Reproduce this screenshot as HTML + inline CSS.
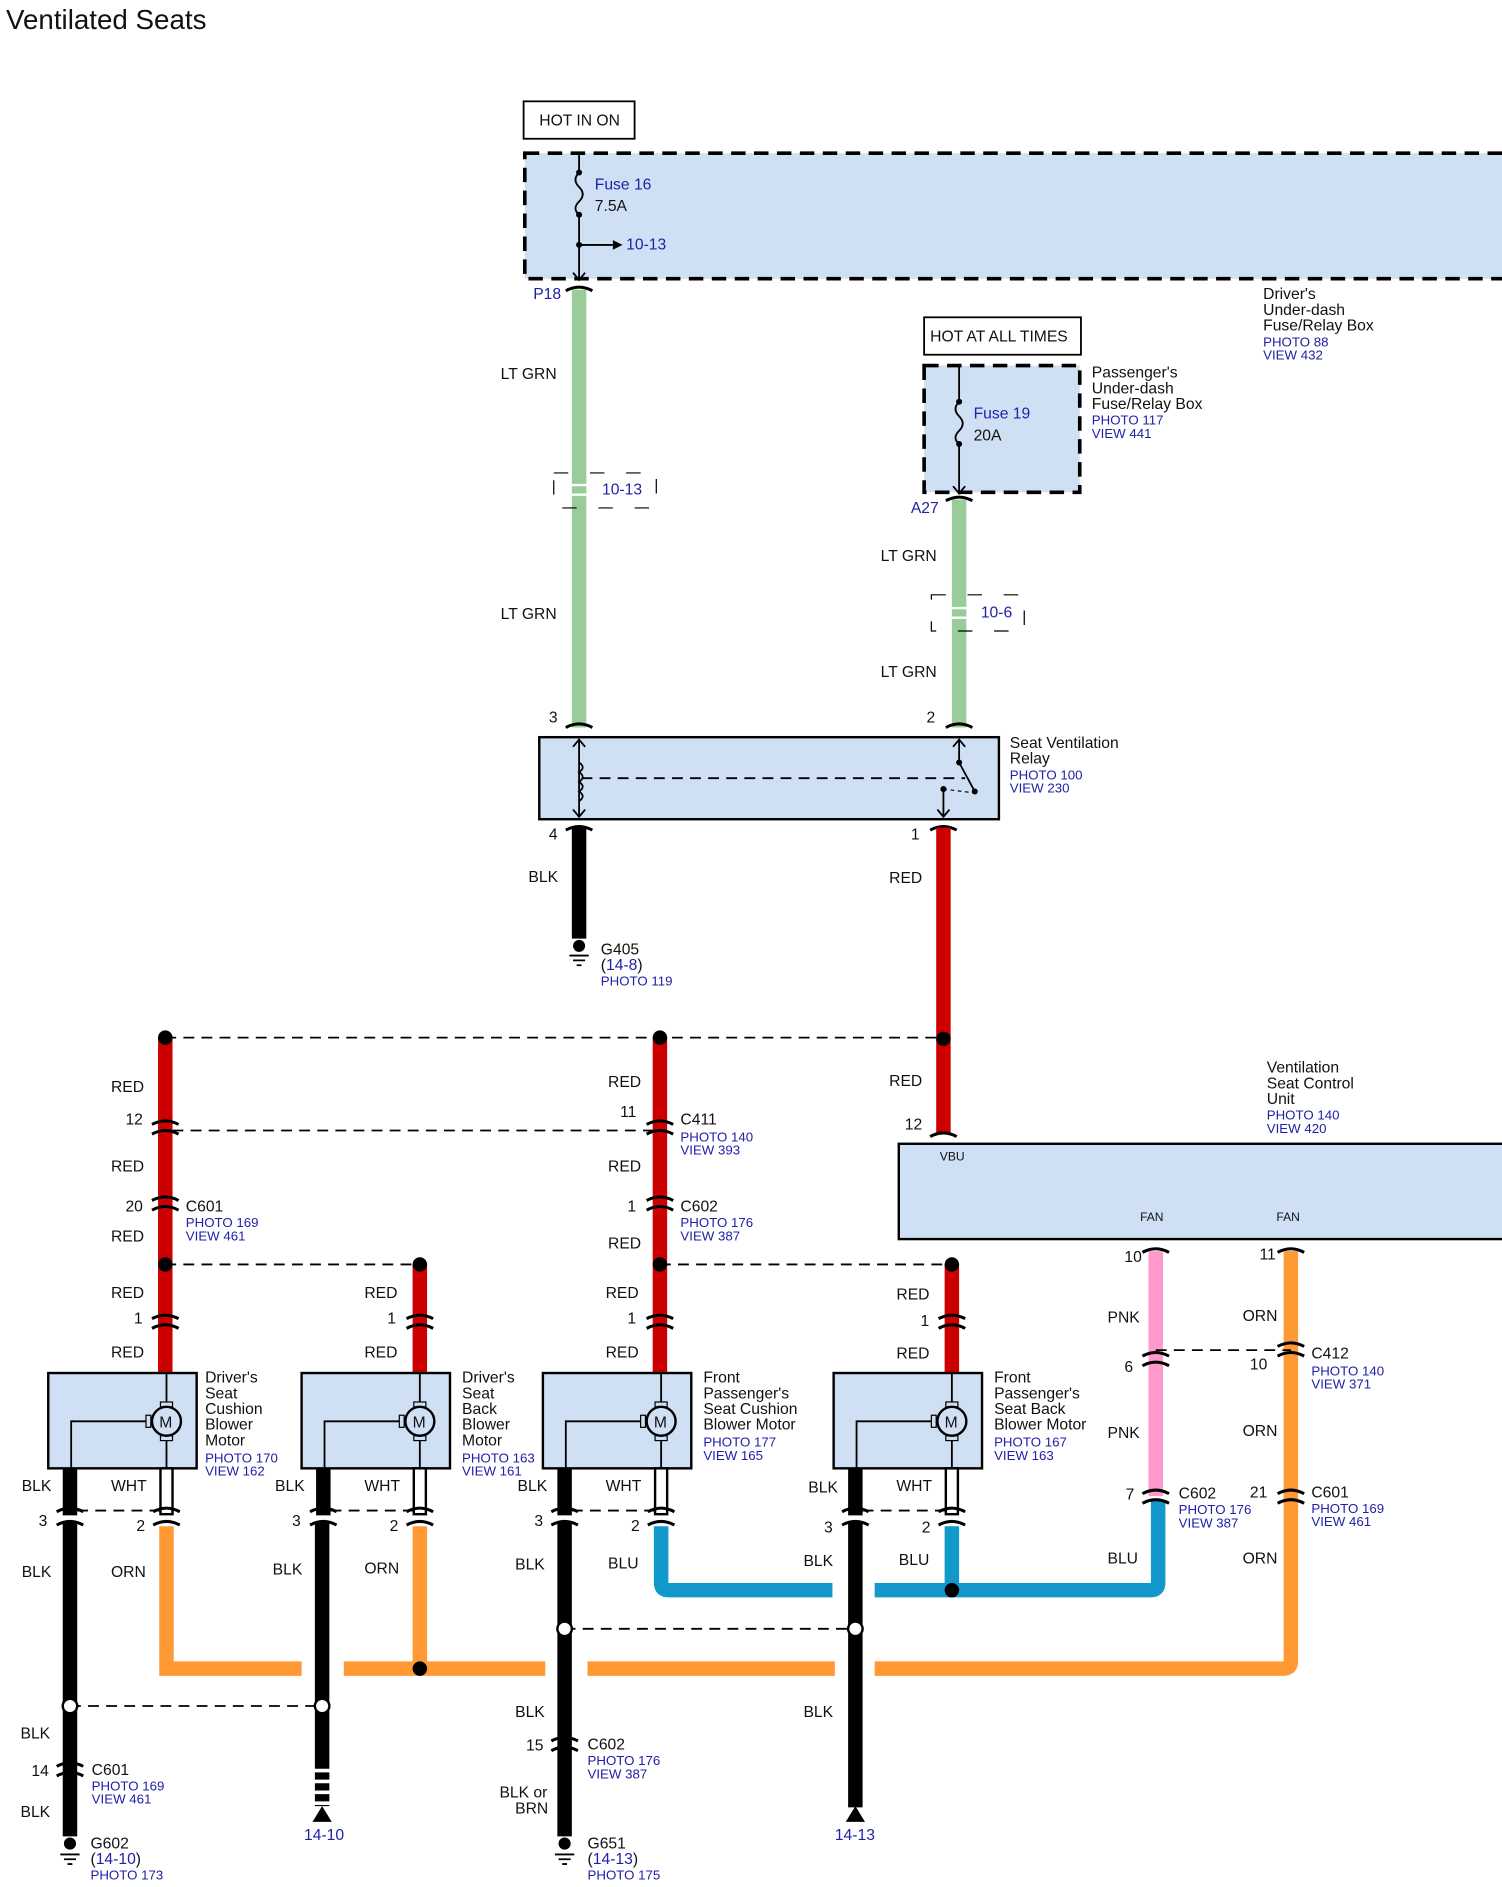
<!DOCTYPE html>
<html><head><meta charset="utf-8"><style>
html,body{margin:0;padding:0;background:#fff;}
svg{display:block;}
text{font-family:"Liberation Sans",Arial,sans-serif;font-size:13px;fill:#111;}
.b{fill:#2020a8;font-size:11px;}
.bl{fill:#2020a8;font-size:13px;}
.w{fill:none;stroke-width:12;}
.th{fill:none;stroke:#000;stroke-width:1.5;}
.dsh{fill:none;stroke:#000;stroke-width:1.5;stroke-dasharray:9,6;}
.cn{fill:none;stroke:#000;stroke-width:2.5;}
</style></head><body>
<svg width="1502" height="1887" viewBox="0 0 1245 1564" preserveAspectRatio="none" xmlns="http://www.w3.org/2000/svg">
<text x="5" y="24" style="font-size:23px">Ventilated Seats</text>

<rect x="434" y="84" width="92" height="31" fill="#fff" stroke="#000" stroke-width="1.5"/>
<text x="447" y="104">HOT IN ON</text>
<rect x="435" y="127" width="820" height="104" fill="#cfe0f4" stroke="#000" stroke-width="3" stroke-dasharray="12,7"/>
<path class="th" d="M480 127 V143 M480 178 V232 M475 226 L480 232 L485 226 M480 203 H508"/>
<path class="th" d="M480 143 q-6 6 0 12 q6 6 0 12 q-6 6 0 11"/>
<circle cx="480" cy="143" r="2.5"/><circle cx="480" cy="178" r="2.5"/><circle cx="480" cy="203" r="2.5"/>
<path d="M508 199 L516 203 L508 207Z"/>
<text x="493" y="157" class="bl">Fuse 16</text><text x="493" y="175">7.5A</text>
<text x="519" y="207" class="bl">10-13</text>
<text x="1047" y="248">Driver's</text><text x="1047" y="261">Under-dash</text><text x="1047" y="274">Fuse/Relay Box</text>
<text x="1047" y="287" class="b">PHOTO 88</text><text x="1047" y="298" class="b">VIEW 432</text>

<text x="442" y="248" class="bl">P18</text>
<line class="w" x1="480" y1="240" x2="480" y2="603" stroke="#99cc99"/>
<path class="cn" d="M469 241 q11 -6 22 0 M469 603 q11 -6 22 0"/>
<text x="415" y="314">LT GRN</text><text x="415" y="513">LT GRN</text>
<rect x="459" y="392" width="85" height="29" fill="none" stroke="#000" stroke-dasharray="12,18" stroke-width="1"/>
<path d="M474 402 H486 M474 410 H486" stroke="#fff" stroke-width="2"/>
<text x="499" y="410" class="bl">10-13</text>

<rect x="766" y="263" width="130" height="31" fill="#fff" stroke="#000" stroke-width="1.5"/>
<text x="771" y="283">HOT AT ALL TIMES</text>
<rect x="766" y="303" width="129" height="105" fill="#cfe0f4" stroke="#000" stroke-width="3" stroke-dasharray="12,7"/>
<path class="th" d="M795 303 V333 M795 368 V409 M790 403 L795 409 L800 403"/>
<path class="th" d="M795 333 q-6 6 0 12 q6 6 0 12 q-6 6 0 11"/>
<circle cx="795" cy="333" r="2.5"/><circle cx="795" cy="368" r="2.5"/>
<text x="807" y="347" class="bl">Fuse 19</text><text x="807" y="365">20A</text>
<text x="905" y="313">Passenger's</text><text x="905" y="326">Under-dash</text><text x="905" y="339">Fuse/Relay Box</text>
<text x="905" y="352" class="b">PHOTO 117</text><text x="905" y="363" class="b">VIEW 441</text>
<text x="755" y="425" class="bl">A27</text>
<line class="w" x1="795" y1="414" x2="795" y2="603" stroke="#99cc99"/>
<path class="cn" d="M784 415 q11 -6 22 0 M784 603 q11 -6 22 0"/>
<text x="730" y="465">LT GRN</text><text x="730" y="561">LT GRN</text>
<rect x="772" y="493" width="77" height="30" fill="none" stroke="#000" stroke-dasharray="12,18" stroke-width="1"/>
<path d="M789 504 H801 M789 512 H801" stroke="#fff" stroke-width="2"/>
<text x="813" y="512" class="bl">10-6</text>

<text x="455" y="599">3</text><text x="768" y="599">2</text>
<rect x="447" y="611" width="381" height="68" fill="#cfe0f4" stroke="#000" stroke-width="2"/>
<path class="th" d="M480 613 V677 M475 619 L480 613 L485 619 M475 671 L480 677 L485 671"/>
<path class="th" d="M480 632 q6 4 0 8 q6 4 0 8 q6 4 0 8 q6 4 0 8" fill="#cfe0f4"/>
<path class="dsh" d="M482 645 H800"/>
<path class="th" d="M795 613 V632 L808 656 M790 619 L795 613 L800 619 M782 656 V677 M777 671 L782 677 L787 671"/>
<path d="M782 654 L806 657" stroke="#000" stroke-dasharray="3,3"/>
<circle cx="795" cy="632" r="2.5"/><circle cx="808" cy="656" r="2.5"/><circle cx="782" cy="654" r="2.5"/>
<text x="837" y="620">Seat Ventilation</text><text x="837" y="633">Relay</text>
<text x="837" y="646" class="b">PHOTO 100</text><text x="837" y="657" class="b">VIEW 230</text>
<text x="455" y="696">4</text><text x="755" y="696">1</text>
<line class="w" x1="480" y1="686" x2="480" y2="778" stroke="#000"/>
<path class="cn" d="M469 688 q11 -6 22 0 M771 688 q11 -6 22 0"/>
<text x="438" y="731">BLK</text>
<circle cx="480" cy="784" r="5"/><path class="th" d="M472 792 H488 M475 796 H485 M478 800 H482"/>
<text x="498" y="791">G405</text><text x="498" y="804">(<tspan fill="#2020a8">14-8</tspan>)</text><text x="498" y="817" class="b">PHOTO 119</text>
<line class="w" x1="782" y1="686" x2="782" y2="940" stroke="#cc0000"/>
<text x="737" y="732">RED</text>

<path class="dsh" d="M137 860 H782"/>
<line class="w" x1="137" y1="860" x2="137" y2="1138" stroke="#cc0000"/>
<line class="w" x1="547" y1="860" x2="547" y2="1138" stroke="#cc0000"/>
<line class="w" x1="348" y1="1048" x2="348" y2="1138" stroke="#cc0000"/>
<line class="w" x1="789" y1="1048" x2="789" y2="1138" stroke="#cc0000"/>
<circle cx="137" cy="860" r="6"/><circle cx="547" cy="860" r="6"/><circle cx="782" cy="861" r="6"/>
<text x="737" y="900">RED</text><text x="750" y="936">12</text>
<path class="cn" d="M771 942 q11 -6 22 0"/>
<text x="92" y="905">RED</text><text x="504" y="901">RED</text>
<path class="dsh" d="M143 937 H541"/>
<path class="cn" d="M126 932 q11 -6 22 0 M126 940 q11 -6 22 0 M536 932 q11 -6 22 0 M536 940 q11 -6 22 0"/>
<text x="104" y="932">12</text><text x="514" y="926">11</text>
<text x="564" y="932">C411</text><text x="564" y="946" class="b">PHOTO 140</text><text x="564" y="957" class="b">VIEW 393</text>
<text x="92" y="971">RED</text><text x="504" y="971">RED</text>
<path class="cn" d="M126 995 q11 -6 22 0 M126 1003 q11 -6 22 0 M536 995 q11 -6 22 0 M536 1003 q11 -6 22 0"/>
<text x="104" y="1004">20</text><text x="520" y="1004">1</text>
<text x="154" y="1004">C601</text><text x="154" y="1017" class="b">PHOTO 169</text><text x="154" y="1028" class="b">VIEW 461</text>
<text x="564" y="1004">C602</text><text x="564" y="1017" class="b">PHOTO 176</text><text x="564" y="1028" class="b">VIEW 387</text>
<text x="92" y="1029">RED</text><text x="504" y="1035">RED</text>
<path class="dsh" d="M137 1048 H348 M547 1048 H789"/>
<circle cx="137" cy="1048" r="6"/><circle cx="348" cy="1048" r="6"/><circle cx="547" cy="1048" r="6"/><circle cx="789" cy="1048" r="6"/>
<text x="92" y="1076">RED</text><text x="302" y="1076">RED</text><text x="502" y="1076">RED</text><text x="743" y="1077">RED</text>
<path class="cn" d="M126 1093 q11 -6 22 0 M126 1101 q11 -6 22 0 M337 1093 q11 -6 22 0 M337 1101 q11 -6 22 0 M536 1093 q11 -6 22 0 M536 1101 q11 -6 22 0 M778 1093 q11 -6 22 0 M778 1101 q11 -6 22 0"/>
<text x="111" y="1097">1</text><text x="321" y="1097">1</text><text x="520" y="1097">1</text><text x="763" y="1099">1</text>
<text x="92" y="1125">RED</text><text x="302" y="1125">RED</text><text x="502" y="1125">RED</text><text x="743" y="1126">RED</text>

<text x="1050" y="889">Ventilation</text><text x="1050" y="902">Seat Control</text><text x="1050" y="915">Unit</text>
<text x="1050" y="928" class="b">PHOTO 140</text><text x="1050" y="939" class="b">VIEW 420</text>
<rect x="745" y="948" width="510" height="79" fill="#cfe0f4" stroke="#000" stroke-width="2"/>
<text x="779" y="962" style="font-size:10px">VBU</text>
<text x="945" y="1012" style="font-size:10px">FAN</text><text x="1058" y="1012" style="font-size:10px">FAN</text>

<path class="w" stroke="#ff9933" d="M138 1265 V1383 H250 M285 1383 H452 M487 1383 H692 M725 1383 H1064 Q1070 1383 1070 1377 V1037"/>
<line class="w" x1="348" y1="1265" x2="348" y2="1383" stroke="#ff9933"/>
<path class="w" stroke="#1199cc" d="M548 1265 V1312 Q548 1318 554 1318 H690 M725 1318 H954 Q960 1318 960 1312 V1243"/>
<line class="w" x1="789" y1="1265" x2="789" y2="1318" stroke="#1199cc"/>
<line class="w" x1="958" y1="1037" x2="958" y2="1240" stroke="#ff99cc"/>
<circle cx="348" cy="1383" r="6"/><circle cx="789" cy="1318" r="6"/>
<path class="cn" d="M947 1038 q11 -6 22 0 M1059 1038 q11 -6 22 0"/>
<text x="932" y="1046">10</text><text x="1044" y="1044">11</text>
<text x="918" y="1096">PNK</text><text x="1030" y="1095">ORN</text>
<path class="dsh" d="M958 1119 H1070"/>
<path class="cn" d="M947 1124 q11 -6 22 0 M947 1132 q11 -6 22 0 M1059 1116 q11 -6 22 0 M1059 1124 q11 -6 22 0"/>
<text x="932" y="1137">6</text><text x="1036" y="1135">10</text>
<text x="1087" y="1126">C412</text><text x="1087" y="1140" class="b">PHOTO 140</text><text x="1087" y="1151" class="b">VIEW 371</text>
<text x="918" y="1192">PNK</text><text x="1030" y="1190">ORN</text>
<path class="cn" d="M947 1238 q11 -6 22 0 M947 1246 q11 -6 22 0 M1059 1238 q11 -6 22 0 M1059 1246 q11 -6 22 0"/>
<text x="933" y="1243">7</text><text x="1036" y="1241">21</text>
<text x="977" y="1242">C602</text><text x="977" y="1255" class="b">PHOTO 176</text><text x="977" y="1266" class="b">VIEW 387</text>
<text x="1087" y="1241">C601</text><text x="1087" y="1254" class="b">PHOTO 169</text><text x="1087" y="1265" class="b">VIEW 461</text>
<text x="918" y="1296">BLU</text><text x="1030" y="1296">ORN</text>

<g id="m1">
<rect x="40" y="1138" width="123" height="79" fill="#cfe0f4" stroke="#000" stroke-width="2"/>
<path class="th" d="M138 1138 V1164 M138 1192 V1217 M125 1178 H59 V1217"/>
<rect x="133" y="1162" width="10" height="4" fill="#cfe0f4" stroke="#000"/><rect x="133" y="1190" width="10" height="4" fill="#cfe0f4" stroke="#000"/><rect x="121" y="1173" width="4" height="10" fill="#cfe0f4" stroke="#000"/>
<circle cx="138" cy="1178" r="12" fill="#cfe0f4" stroke="#000" stroke-width="2"/>
<text x="132" y="1183">M</text>
<line class="w" x1="58" y1="1217" x2="58" y2="1256" stroke="#000"/>
<rect x="133" y="1217" width="10" height="38" fill="#fff" stroke="#000" stroke-width="2"/>
<path class="dsh" d="M64 1252 H133"/>
<path class="cn" d="M47 1253 q11 -6 22 0 M47 1264 q11 -6 22 0 M127 1253 q11 -6 22 0 M127 1264 q11 -6 22 0"/>
<text x="92" y="1236">WHT</text>
</g>
<use href="#m1" x="210"/>
<use href="#m1" x="410"/>
<use href="#m1" x="651"/>
<text x="170" y="1146">Driver's</text><text x="170" y="1159">Seat</text><text x="170" y="1172">Cushion</text><text x="170" y="1185">Blower</text><text x="170" y="1198">Motor</text><text x="170" y="1212" class="b">PHOTO 170</text><text x="170" y="1223" class="b">VIEW 162</text>
<text x="383" y="1146">Driver's</text><text x="383" y="1159">Seat</text><text x="383" y="1172">Back</text><text x="383" y="1185">Blower</text><text x="383" y="1198">Motor</text><text x="383" y="1212" class="b">PHOTO 163</text><text x="383" y="1223" class="b">VIEW 161</text>
<text x="583" y="1146">Front</text><text x="583" y="1159">Passenger's</text><text x="583" y="1172">Seat Cushion</text><text x="583" y="1185">Blower Motor</text><text x="583" y="1199" class="b">PHOTO 177</text><text x="583" y="1210" class="b">VIEW 165</text>
<text x="824" y="1146">Front</text><text x="824" y="1159">Passenger's</text><text x="824" y="1172">Seat Back</text><text x="824" y="1185">Blower Motor</text><text x="824" y="1199" class="b">PHOTO 167</text><text x="824" y="1210" class="b">VIEW 163</text>
<text x="18" y="1236">BLK</text><text x="228" y="1236">BLK</text><text x="429" y="1236">BLK</text><text x="670" y="1237">BLK</text>
<text x="32" y="1265">3</text><text x="113" y="1269">2</text><text x="242" y="1265">3</text><text x="323" y="1269">2</text><text x="443" y="1265">3</text><text x="523" y="1269">2</text><text x="683" y="1270">3</text><text x="764" y="1270">2</text>
<text x="18" y="1307">BLK</text><text x="92" y="1307">ORN</text><text x="226" y="1305">BLK</text><text x="302" y="1304">ORN</text><text x="427" y="1301">BLK</text><text x="504" y="1300">BLU</text><text x="666" y="1298">BLK</text><text x="745" y="1297">BLU</text>

<line class="w" x1="58" y1="1262" x2="58" y2="1522" stroke="#000"/>
<line class="w" x1="267" y1="1262" x2="267" y2="1460" stroke="#000"/>
<line x1="267" y1="1460" x2="267" y2="1497" stroke="#000" stroke-width="12" stroke-dasharray="6,3"/>
<line class="w" x1="468" y1="1262" x2="468" y2="1522" stroke="#000"/>
<line class="w" x1="709" y1="1262" x2="709" y2="1498" stroke="#000"/>
<path class="dsh" d="M58 1414 H267 M468 1350 H709"/>
<circle cx="58" cy="1414" r="6" fill="#fff" stroke="#000" stroke-width="2"/><circle cx="267" cy="1414" r="6" fill="#fff" stroke="#000" stroke-width="2"/>
<circle cx="468" cy="1350" r="6" fill="#fff" stroke="#000" stroke-width="2"/><circle cx="709" cy="1350" r="6" fill="#fff" stroke="#000" stroke-width="2"/>
<path d="M259 1510 L267 1497 L275 1510Z"/><path d="M701 1510 L709 1497 L717 1510Z"/>
<text x="252" y="1525" class="bl">14-10</text><text x="692" y="1525" class="bl">14-13</text>
<text x="17" y="1441">BLK</text><text x="427" y="1423">BLK</text><text x="666" y="1423">BLK</text>
<path class="cn" d="M47 1464 q11 -6 22 0 M47 1472 q11 -6 22 0 M457 1443 q11 -6 22 0 M457 1451 q11 -6 22 0"/>
<text x="26" y="1472">14</text><text x="436" y="1451">15</text>
<text x="76" y="1471">C601</text><text x="76" y="1484" class="b">PHOTO 169</text><text x="76" y="1495" class="b">VIEW 461</text>
<text x="487" y="1450">C602</text><text x="487" y="1463" class="b">PHOTO 176</text><text x="487" y="1474" class="b">VIEW 387</text>
<text x="17" y="1506">BLK</text><text x="414" y="1490">BLK or</text><text x="427" y="1503">BRN</text>
<circle cx="58" cy="1528" r="5"/><path class="th" d="M50 1537 H66 M53 1541 H63 M56 1545 H60"/>
<circle cx="468" cy="1528" r="5"/><path class="th" d="M460 1537 H476 M463 1541 H473 M466 1545 H470"/>
<text x="75" y="1532">G602</text><text x="75" y="1545">(<tspan fill="#2020a8">14-10</tspan>)</text><text x="75" y="1558" class="b">PHOTO 173</text>
<text x="487" y="1532">G651</text><text x="487" y="1545">(<tspan fill="#2020a8">14-13</tspan>)</text><text x="487" y="1558" class="b">PHOTO 175</text>
</svg>
</body></html>
